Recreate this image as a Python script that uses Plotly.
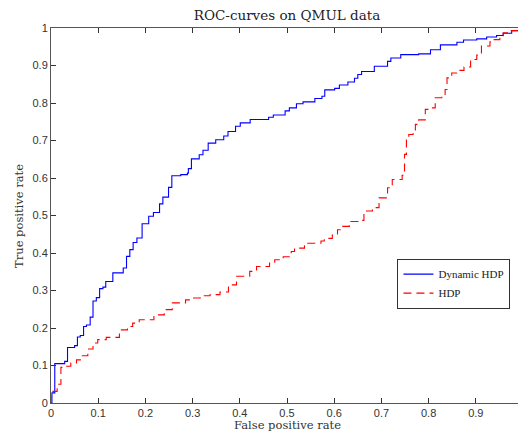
import plotly.graph_objects as go

# Dynamic HDP ROC curve (step points: x of jump, y after jump)
dyn_fpr = [0, 0.002, 0.008, 0.029, 0.035, 0.050, 0.056, 0.062, 0.069, 0.075, 0.083, 0.089, 0.096,
           0.103, 0.110, 0.116, 0.131, 0.153, 0.160, 0.167, 0.174, 0.182, 0.193, 0.207, 0.217,
           0.230, 0.237, 0.249, 0.256, 0.275, 0.289, 0.291, 0.2975, 0.314, 0.322, 0.333, 0.349,
           0.366, 0.375, 0.391, 0.401, 0.422, 0.461, 0.471, 0.496, 0.505, 0.520, 0.534, 0.559,
           0.574, 0.580, 0.601, 0.611, 0.629, 0.643, 0.650, 0.658, 0.685, 0.713, 0.720, 0.741,
           0.779, 0.804, 0.825, 0.860, 0.874, 0.902, 0.923, 0.944, 0.958, 0.976, 1.0]
dyn_tpr = [0, 0.027, 0.105, 0.111, 0.148, 0.153, 0.176, 0.180, 0.204, 0.208, 0.229, 0.272, 0.281,
           0.305, 0.309, 0.324, 0.347, 0.360, 0.391, 0.409, 0.428, 0.440, 0.478, 0.498, 0.508,
           0.531, 0.549, 0.575, 0.606, 0.609, 0.613, 0.625, 0.651, 0.662, 0.674, 0.693, 0.702,
           0.712, 0.724, 0.738, 0.747, 0.756, 0.762, 0.768, 0.779, 0.787, 0.798, 0.803, 0.812,
           0.818, 0.835, 0.839, 0.848, 0.856, 0.866, 0.876, 0.884, 0.898, 0.911, 0.920, 0.929,
           0.931, 0.942, 0.955, 0.962, 0.968, 0.971, 0.976, 0.980, 0.986, 0.993, 1.0]

# HDP ROC curve
hdp_fpr = [0, 0, 0.013, 0.021, 0.033, 0.042, 0.054, 0.064, 0.078, 0.089, 0.099, 0.117, 0.145,
           0.162, 0.173, 0.187, 0.218, 0.240, 0.257, 0.285, 0.295, 0.316, 0.337, 0.358, 0.376,
           0.393, 0.421, 0.4355, 0.463, 0.474, 0.492, 0.509, 0.516, 0.537, 0.540, 0.572, 0.579,
           0.596, 0.607, 0.618, 0.632, 0.635, 0.660, 0.663, 0.681, 0.695, 0.713, 0.723, 0.744,
           0.749, 0.753, 0.758, 0.767, 0.772, 0.779, 0.793, 0.800, 0.814, 0.828, 0.835, 0.839,
           0.849, 0.860, 0.875, 0.889, 0.902, 0.912, 0.930, 0.937, 0.951, 0.958, 0.972, 0.993, 1.0]
hdp_tpr = [0, 0.031, 0.050, 0.095, 0.098, 0.107, 0.115, 0.126, 0.144, 0.160, 0.169, 0.175, 0.195,
           0.204, 0.213, 0.222, 0.235, 0.249, 0.267, 0.275, 0.280, 0.286, 0.289, 0.296, 0.315,
           0.338, 0.351, 0.364, 0.373, 0.382, 0.390, 0.404, 0.413, 0.419, 0.426, 0.432, 0.439,
           0.448, 0.462, 0.471, 0.480, 0.484, 0.487, 0.512, 0.521, 0.547, 0.574, 0.596, 0.607,
           0.663, 0.707, 0.716, 0.718, 0.743, 0.755, 0.783, 0.787, 0.814, 0.818, 0.836, 0.867,
           0.880, 0.887, 0.896, 0.916, 0.928, 0.952, 0.963, 0.969, 0.978, 0.987, 0.993, 1.0, 1.0]

tick_vals = [0, 0.1, 0.2, 0.3, 0.4, 0.5, 0.6, 0.7, 0.8, 0.9, 1]
tick_text = ["0", "0.1", "0.2", "0.3", "0.4", "0.5", "0.6", "0.7", "0.8", "0.9", "1"]

fig = go.Figure()
fig.add_trace(go.Scatter(x=dyn_fpr, y=dyn_tpr, mode="lines", name="Dynamic HDP",
                         line=dict(color="#0000ff", width=1.1, shape="hv")))
fig.add_trace(go.Scatter(x=hdp_fpr, y=hdp_tpr, mode="lines", name="HDP",
                         line=dict(color="#ff0000", width=1.1, shape="hv", dash="8px,5px")))

axis_common = dict(
    range=[0, 1], tickvals=tick_vals, ticktext=tick_text,
    showline=True, linecolor="#555555", linewidth=1, mirror="ticks",
    ticks="inside", ticklen=5, tickcolor="#333333", tickwidth=1,
    showgrid=False, zeroline=False, ticklabeloverflow="allow",
    tickfont=dict(family="Liberation Sans", size=11, color="#333333"),
)

W, H = 518, 424  # page has an 8px body margin; 518+8 = 526, 424+8 = 432

fig.update_layout(
    width=W, height=H,
    margin=dict(l=43, r=0, t=20, b=28.7),
    paper_bgcolor="white", plot_bgcolor="white",
    title=dict(text="ROC-curves on QMUL data", x=0.5, xref="paper", xanchor="center",
               y=(H - 7) / H, yref="container", yanchor="middle",
               font=dict(family="DejaVu Serif", size=13.5, color="#222222")),
    xaxis=dict(**axis_common),
    yaxis=dict(**axis_common),
    showlegend=True,
    legend=dict(x=0.734, y=0.385, xanchor="left", yanchor="top",
                bgcolor="white", bordercolor="#333333", borderwidth=1,
                font=dict(family="Liberation Serif", size=11, color="#222222"),
                tracegroupgap=0, itemwidth=30),
    annotations=[
        dict(text="False positive rate", x=0.5, xref="paper", y=-0.058, yref="paper",
             xanchor="center", yanchor="middle", showarrow=False,
             font=dict(family="DejaVu Serif", size=11.5, color="#333333")),
        dict(text="True positive rate", x=-0.069, xref="paper", y=0.5, yref="paper",
             xanchor="center", yanchor="middle", showarrow=False, textangle=-90,
             font=dict(family="DejaVu Serif", size=11.5, color="#333333")),
    ],
)

fig.write_html("out.html")
